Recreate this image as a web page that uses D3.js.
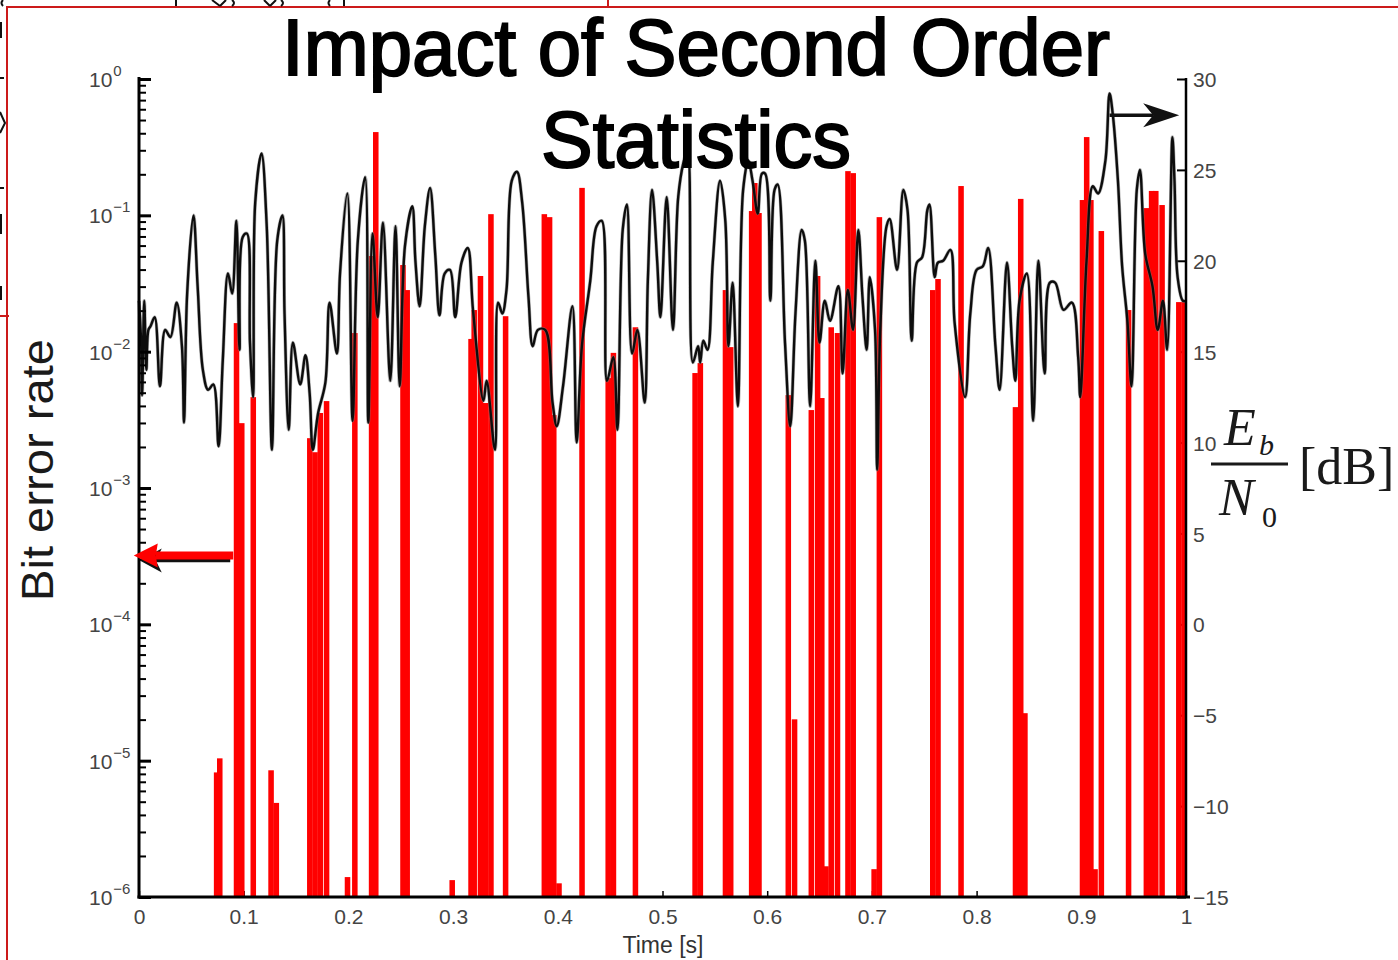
<!DOCTYPE html>
<html>
<head>
<meta charset="utf-8">
<script src="https://cdn.jsdelivr.net/npm/d3@7"></script>
<style>
  body { margin: 0; background: #fff; }
  svg { display: block; }
</style>
</head>
<body>
<svg id="chart" width="1398" height="960"></svg>
<script>
// ---- Time axis ticks and value-axis ticks ----
const timeTicks = [0, 0.1, 0.2, 0.3, 0.4, 0.5, 0.6, 0.7, 0.8, 0.9, 1];
const berDecades = [0, -1, -2, -3, -4, -5, -6];
const snrTicks = [30, 25, 20, 15, 10, 5, 0, -5, -10, -15];

// ---- Instantaneous Eb/N0 trace [dB] ----
const traceTime = [0,0.002,0.003,0.005,0.007,0.009,0.011,0.015,0.020,0.025,0.030,0.036,0.041,0.043,0.046,0.052,0.056,0.061,0.066,0.071,0.076,0.080,0.085,0.089,0.093,0.096,0.099,0.103,0.106,0.109,0.111,0.117,0.122,0.127,0.132,0.137,0.139,0.143,0.147,0.154,0.159,0.163,0.166,0.171,0.178,0.182,0.189,0.192,0.199,0.204,0.209,0.216,0.219,0.223,0.228,0.233,0.240,0.245,0.249,0.254,0.261,0.264,0.268,0.273,0.278,0.283,0.287,0.292,0.297,0.302,0.308,0.314,0.319,0.329,0.332,0.340,0.343,0.347,0.351,0.356,0.361,0.366,0.372,0.376,0.381,0.388,0.395,0.399,0.405,0.414,0.418,0.423,0.431,0.437,0.442,0.447,0.453,0.457,0.462,0.466,0.471,0.476,0.483,0.486,0.490,0.495,0.498,0.504,0.510,0.515,0.520,0.524,0.529,0.534,0.536,0.539,0.543,0.548,0.555,0.560,0.563,0.567,0.572,0.577,0.582,0.586,0.591,0.595,0.598,0.603,0.607,0.610,0.617,0.622,0.627,0.633,0.636,0.641,0.646,0.650,0.655,0.660,0.668,0.672,0.677,0.682,0.687,0.691,0.695,0.698,0.703,0.705,0.708,0.714,0.717,0.724,0.730,0.734,0.738,0.743,0.748,0.753,0.755,0.760,0.763,0.768,0.775,0.779,0.789,0.794,0.800,0.806,0.811,0.818,0.822,0.829,0.834,0.837,0.841,0.848,0.854,0.859,0.865,0.870,0.875,0.883,0.891,0.897,0.899,0.905,0.911,0.916,0.923,0.927,0.930,0.935,0.939,0.944,0.948,0.953,0.956,0.961,0.968,0.973,0.978,0.982,0.987,0.989,0.992,0.997,1.000];
const traceEbN0 = [17.8,15.6,12.6,17.8,14.0,16.2,16.4,16.9,13.1,16.2,15.8,17.7,15.3,11.1,18.2,22.5,18.6,14.0,12.9,13.2,9.8,14.5,19.3,18.2,22.2,15.1,21.3,21.5,15.5,12.5,23.2,25.9,21.9,9.6,21.1,22.5,17.1,10.7,15.5,13.2,14.8,12.7,9.6,11.6,13.3,17.7,14.9,19.3,23.7,11.2,21.1,24.6,11.1,21.5,16.9,22.1,13.4,21.9,13.1,20.8,23.0,20.0,17.5,21.9,24.0,20.3,17.0,19.3,19.5,16.9,19.9,20.7,17.3,12.3,13.4,9.6,17.7,17.1,18.4,24.4,24.9,23.2,18.0,15.3,16.2,16.2,12.2,10.9,13.1,17.5,10.0,15.3,18.9,21.9,22.2,13.4,14.7,10.7,21.7,23.1,14.9,16.2,12.2,18.9,23.9,19.9,16.9,23.5,16.2,23.5,25.4,26.1,14.4,15.3,14.4,15.6,15.1,19.9,24.4,22.2,15.3,18.8,12.0,23.9,25.5,24.4,22.6,24.8,24.8,17.8,23.9,24.2,15.5,10.9,17.1,21.7,21.1,12.0,20.0,15.5,17.8,16.7,18.6,13.8,18.4,16.2,21.7,18.0,15.1,19.1,16.2,8.5,16.2,21.9,22.3,19.5,23.9,22.8,15.6,19.9,20.2,22.8,23.1,19.1,19.9,20.0,20.6,16.6,12.5,17.1,19.5,19.7,20.7,15.3,12.9,19.9,15.3,13.4,17.8,19.3,11.2,20.0,13.8,18.8,18.8,17.3,17.7,14.7,12.5,20.0,24.1,23.7,25.5,29.2,28.1,24.4,19.7,16.7,13.1,23.9,25.0,20.4,18.6,16.2,17.8,15.1,26.8,24.4,19.1,17.8,17.8];

// ---- Bit error rate per 5 ms block ----
const blockTime = [0.074,0.077,0.093,0.098,0.109,0.126,0.131,0.163,0.168,0.173,0.179,0.199,0.206,0.222,0.226,0.252,0.256,0.299,0.317,0.320,0.326,0.331,0.336,0.350,0.387,0.392,0.396,0.401,0.423,0.448,0.453,0.474,0.531,0.536,0.560,0.565,0.585,0.588,0.592,0.620,0.626,0.642,0.648,0.652,0.656,0.661,0.667,0.677,0.682,0.702,0.707,0.758,0.763,0.785,0.837,0.842,0.846,0.901,0.905,0.909,0.913,0.919,0.945,0.962,0.967,0.971,0.977,0.993,0.998];
const blockBER = [8.2e-6,1.04e-5,1.62e-2,2.99e-3,4.64e-3,8.5e-6,4.9e-6,2.32e-3,1.83e-3,3.55e-3,4.34e-3,1.4e-6,1.37e-2,5.03e-2,0.408,4.32e-2,2.83e-2,1.33e-6,1.24e-2,2.02e-2,3.59e-2,4.2e-3,0.102,1.82e-2,0.102,9.7e-2,3.43e-3,1.26e-6,0.159,6.4e-3,9.8e-3,1.51e-2,6.97e-3,8.25e-3,2.83e-2,1.08e-2,0.1075,0.1726,0.104,4.8e-3,2.01e-5,3.73e-3,3.59e-2,4.57e-3,1.68e-6,1.51e-2,1.37e-2,0.211,0.204,1.6e-6,9.7e-2,2.83e-2,3.41e-2,0.164,3.92e-3,0.132,2.23e-5,0.1295,0.375,0.1295,1.6e-6,7.67e-2,2.02e-2,0.113,0.151,0.151,0.119,2.31e-2,2.31e-2];
const blockWidth = 0.005;

// ---- Axis-pointer annotations (in data units) ----
const berPointer = { from: 0.09, to: -0.005, ber: 3.2e-4 };
const snrPointer = { from: 0.927, to: 0.9935, db: 28.0 };

// ---------------------------------------------------------------
const svg = d3.select("#chart");
const plot = { left: 139, right: 1186, top: 79, bottom: 897 };
const sans = "'Liberation Sans', Arial, Helvetica, sans-serif";
const serif = "'Liberation Serif', 'Times New Roman', serif";

const x = d3.scaleLinear().domain([0, 1]).range([plot.left, plot.right]);
const yBer = d3.scaleLog().domain([1e-6, 1]).range([plot.bottom, plot.top]);
const yDb = d3.scaleLinear().domain([-15, 30]).range([plot.bottom, plot.top]);

// ---- slide frame around the figure ----
const frame = svg.append("g").attr("stroke", "#cc1a1a").attr("stroke-width", 2).attr("fill", "none");
frame.append("line").attr("x1", 6).attr("y1", 7).attr("x2", 1398).attr("y2", 7);
frame.append("line").attr("x1", 7).attr("y1", 6).attr("x2", 7).attr("y2", 960);
frame.append("line").attr("x1", 608).attr("y1", 0).attr("x2", 608).attr("y2", 7);
frame.append("line").attr("x1", 0).attr("y1", 316).attr("x2", 9).attr("y2", 316);
const clipped = svg.append("g").attr("stroke", "#111").attr("stroke-width", 2).attr("fill", "none");
["M1,22V38", "M0,112L5,123L0,133", "M0,78H4", "M0,188H4", "M1,214V234", "M1,286V300",
 "M3,0Q0,3 3,6", "M176,0V6", "M212,0L220,6M226,0L220,6", "M232,0Q236,3 232,6",
 "M264,0L270,6M276,0L270,6", "M281,0Q285,3 281,6", "M330,0Q327,3 330,6", "M344,0V6"]
  .forEach(p => clipped.append("path").attr("d", p));

// ---- right (Eb/N0) axis ticks, drawn beneath the bars ----
const rightAxis = d3.axisRight(yDb)
  .tickValues(snrTicks).tickSizeInner(-9).tickSizeOuter(0).tickPadding(7)
  .tickFormat(d => d < 0 ? "\u2212" + Math.abs(d) : String(d));
const gRight = svg.append("g").attr("transform", `translate(${plot.right},0)`).call(rightAxis);
gRight.select(".domain").remove();
gRight.selectAll(".tick line").attr("stroke", "#000").attr("stroke-width", 2);
gRight.selectAll(".tick text").attr("font-family", sans).attr("font-size", 21)
  .attr("fill", "#444").attr("dy", "0.36em");

// ---- bottom axis ticks ----
const bottomAxis = d3.axisBottom(x)
  .tickValues(timeTicks).tickSizeInner(-6).tickSizeOuter(0).tickPadding(12)
  .tickFormat(d => (d === 0 || d === 1) ? String(d) : d3.format(".1f")(d));
const gBottom = svg.append("g").attr("transform", `translate(0,${plot.bottom})`).call(bottomAxis);
gBottom.select(".domain").remove();
gBottom.selectAll(".tick line").attr("stroke", "#000").attr("stroke-width", 1.5);
gBottom.selectAll(".tick text").attr("font-family", sans).attr("font-size", 21).attr("fill", "#444");

// ---- BER bars ----
const bw = x(blockWidth) - x(0);
svg.append("defs").append("clipPath").attr("id", "plotClip")
  .append("rect").attr("x", plot.left).attr("y", plot.top - 30)
  .attr("width", plot.right - plot.left).attr("height", plot.bottom - plot.top + 30);
svg.append("g").attr("clip-path", "url(#plotClip)")
  .selectAll("rect").data(blockTime.map((t, i) => ({ t, ber: blockBER[i] })))
  .join("rect")
  .attr("x", d => x(d.t) - bw / 2)
  .attr("width", bw + 0.3)
  .attr("y", d => yBer(d.ber))
  .attr("height", d => yBer(1e-6) - yBer(d.ber))
  .attr("fill", "#ff0000");

// ---- Eb/N0 trace ----
const trace = traceTime.map((t, i) => [t, traceEbN0[i]]);
const traceLine = d3.line().x(d => x(d[0])).y(d => yDb(d[1])).curve(d3.curveCatmullRom.alpha(0.5));
svg.append("path")
  .datum(trace)
  .attr("d", traceLine)
  .attr("fill", "none").attr("stroke", "#777").attr("stroke-width", 3.6)
  .attr("stroke-linejoin", "round").attr("opacity", 0.55);
svg.append("path")
  .datum(trace)
  .attr("d", traceLine)
  .attr("fill", "none").attr("stroke", "#0d0d0d").attr("stroke-width", 2.4)
  .attr("stroke-linejoin", "round");

// ---- left (BER) axis ----
const majorTicks = berDecades.map(e => Math.pow(10, e));
const minorTicks = [];
for (let e = -6; e < 0; e++) for (let m = 2; m <= 9; m++) minorTicks.push(m * Math.pow(10, e));
const gMinor = svg.append("g").attr("transform", `translate(${plot.left},0)`)
  .call(d3.axisLeft(yBer).tickValues(minorTicks).tickSizeInner(-7).tickSizeOuter(0).tickFormat(""));
gMinor.select(".domain").remove();
gMinor.selectAll(".tick line").attr("stroke", "#000").attr("stroke-width", 2);
const gMajor = svg.append("g").attr("transform", `translate(${plot.left},0)`)
  .call(d3.axisLeft(yBer).tickValues(majorTicks).tickSizeInner(-12).tickSizeOuter(0).tickFormat(""));
gMajor.select(".domain").remove();
gMajor.selectAll(".tick line").attr("stroke", "#000").attr("stroke-width", 3);

const berLabels = svg.append("g").attr("font-family", sans).attr("fill", "#444");
berDecades.forEach(e => {
  const t = berLabels.append("text").attr("x", 89).attr("y", yBer(Math.pow(10, e)) + 8)
    .attr("font-size", 21).text("10");
  t.append("tspan").attr("dy", -11).attr("dx", 1).attr("font-size", 15)
    .text(e < 0 ? "\u2212" + Math.abs(e) : String(e));
});

// ---- axis lines ----
const axes = svg.append("g").attr("stroke", "#000").attr("fill", "none");
axes.append("line").attr("x1", plot.left).attr("y1", plot.top - 2).attr("x2", plot.left).attr("y2", plot.bottom + 1.5).attr("stroke-width", 3);
axes.append("line").attr("x1", plot.left - 1.5).attr("y1", plot.bottom).attr("x2", plot.right + 4).attr("y2", plot.bottom).attr("stroke-width", 3);
axes.append("line").attr("x1", plot.right).attr("y1", plot.top - 1).attr("x2", plot.right).attr("y2", plot.bottom).attr("stroke-width", 2.5);

// ---- pointer arrows ----
function arrow(g, x0, x1, y, opt) {
  const dir = Math.sign(x1 - x0);
  const back = x1 - dir * opt.len;
  const notch = back + dir * opt.notch;
  g.append("line").attr("x1", x0).attr("y1", y).attr("x2", notch).attr("y2", y)
    .attr("stroke", opt.color).attr("stroke-width", opt.shaft);
  g.append("path")
    .attr("d", `M${x1},${y}L${back},${y - opt.half}L${notch},${y}L${back},${y + opt.half}Z`)
    .attr("fill", opt.color);
}
const arrows = svg.append("g");
{
  const yb = yBer(berPointer.ber);
  arrow(arrows, x(berPointer.from) - 3, x(berPointer.to) + 6, yb + 5,
        { color: "#111", shaft: 3.5, len: 22, half: 12, notch: 6 });
  arrow(arrows, x(berPointer.from), x(berPointer.to), yb,
        { color: "#ff0000", shaft: 8, len: 24, half: 12, notch: 2 });
  const ys = yDb(snrPointer.db);
  arrow(arrows, x(snrPointer.from), x(snrPointer.to), ys,
        { color: "#111", shaft: 3.5, len: 36, half: 12, notch: 10 });
}

// ---- titles and axis labels ----
const title = svg.append("g").attr("font-family", sans).attr("font-size", 80)
  .attr("fill", "#000").attr("stroke", "#000").attr("stroke-width", 2)
  .attr("text-anchor", "middle");
title.append("text").attr("x", 696).attr("y", 75)
  .attr("textLength", 828).attr("lengthAdjust", "spacingAndGlyphs").text("Impact of Second Order");
title.append("text").attr("x", 696).attr("y", 167)
  .attr("textLength", 310).attr("lengthAdjust", "spacingAndGlyphs").text("Statistics");

svg.append("text").attr("transform", "translate(53,470) rotate(-90)")
  .attr("text-anchor", "middle").attr("font-family", sans).attr("font-size", 44)
  .attr("fill", "#1a1a1a").attr("textLength", 262).attr("lengthAdjust", "spacingAndGlyphs")
  .text("Bit error rate");

svg.append("text").attr("x", 663).attr("y", 953).attr("text-anchor", "middle")
  .attr("font-family", sans).attr("font-size", 23).attr("fill", "#333").text("Time [s]");

const snrLabel = svg.append("g").attr("font-family", serif).attr("fill", "#1a1a1a");
snrLabel.append("text").attr("x", 1224).attr("y", 445).attr("font-size", 52).attr("font-style", "italic").text("E");
snrLabel.append("text").attr("x", 1259).attr("y", 455).attr("font-size", 30).attr("font-style", "italic").text("b");
snrLabel.append("line").attr("x1", 1211).attr("x2", 1288).attr("y1", 464).attr("y2", 464)
  .attr("stroke", "#1a1a1a").attr("stroke-width", 3);
snrLabel.append("text").attr("x", 1219).attr("y", 515).attr("font-size", 52).attr("font-style", "italic").text("N");
snrLabel.append("text").attr("x", 1262).attr("y", 527).attr("font-size", 30).text("0");
snrLabel.append("text").attr("x", 1299).attr("y", 484).attr("font-size", 52).text("[dB]");
</script>
</body>
</html>
